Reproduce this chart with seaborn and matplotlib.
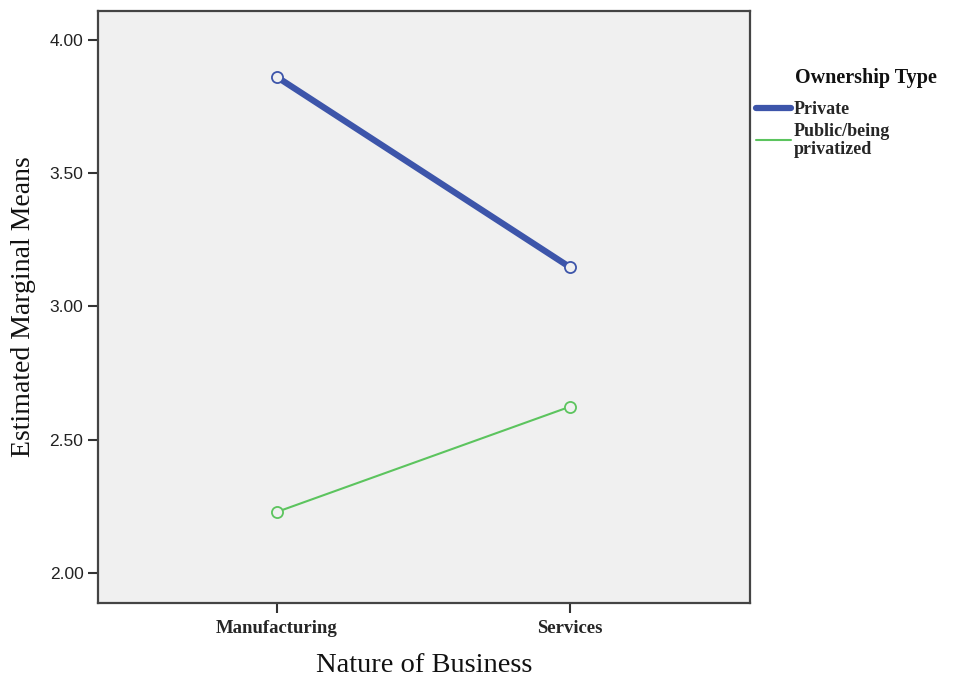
import matplotlib
matplotlib.use("Agg")
import matplotlib.pyplot as plt
import seaborn as sns
import pandas as pd

categories = ["Manufacturing", "Services"]
private_means = [3.861, 3.147]
public_means = [2.229, 2.624]
series_names = ["Private", "Public/being\nprivatized"]
y_ticks = [2.00, 2.50, 3.00, 3.50, 4.00]

df = pd.DataFrame({
    "Nature of Business": categories * 2,
    "Mean": private_means + public_means,
    "Ownership Type": [series_names[0]] * 2 + [series_names[1]] * 2,
})

sns.set_style("white")
plt.rcParams["font.family"] = ["Liberation Sans", "DejaVu Sans"]

fig = plt.figure(figsize=(9.54, 6.77), dpi=100)
ax = fig.add_axes([98 / 954, 1 - 603 / 677, (750 - 98) / 954, (603 - 11) / 677])
ax.set_facecolor("#F0F0F0")

colors = ["#3D55AA", "#5CC45E"]
widths = [4.5, 1.5]
for name, c, w in zip(series_names, colors, widths):
    sub = df[df["Ownership Type"] == name]
    sns.lineplot(data=sub, x="Nature of Business", y="Mean", ax=ax, color=c,
                 linewidth=w, marker="o", markersize=8, markerfacecolor="#F0F0F0",
                 markeredgecolor=c, markeredgewidth=1.3, label=name)

ax.set_xlim(-0.611, 1.614)
ax.set_ylim(1.887, 4.109)
ax.set_yticks(y_ticks)
ax.set_yticklabels([f"{v:.2f}" for v in y_ticks], fontsize=12.5, color="#222222")
ax.set_xticks([0, 1])
ax.set_xticklabels(categories, fontsize=13.5, fontweight="bold", family="Liberation Serif")
ax.tick_params(axis="both", direction="out", length=7, width=1.5, color="#333333",
               left=True, bottom=True)
ax.tick_params(axis="x", pad=5)
for s in ax.spines.values():
    s.set_color("#444444")
    s.set_linewidth(1.6)

ax.set_xlabel("Nature of Business", fontsize=20.5, family="Liberation Serif", labelpad=12,
              color="#111111")
ax.set_ylabel("Estimated Marginal Means", fontsize=20, family="Liberation Serif", labelpad=10,
              color="#111111")

leg = ax.legend(loc="upper left", bbox_to_anchor=(756 / 954, 1 - 101 / 677),
                bbox_transform=fig.transFigure, frameon=False,
                handlelength=1.95, handletextpad=0.15, borderaxespad=0, borderpad=0,
                labelspacing=0.25,
                prop={"family": "Liberation Serif", "weight": "bold", "size": 13})
for t in leg.get_texts():
    t.set_linespacing(1.1)
for h in leg.legend_handles:
    h.set_marker("")
fig.text(795 / 954, 1 - 78 / 677, "Ownership Type", ha="left", va="center",
         family="Liberation Serif", fontweight="bold", fontsize=14.5, color="#111111")

fig.savefig("out.png", dpi=100)
